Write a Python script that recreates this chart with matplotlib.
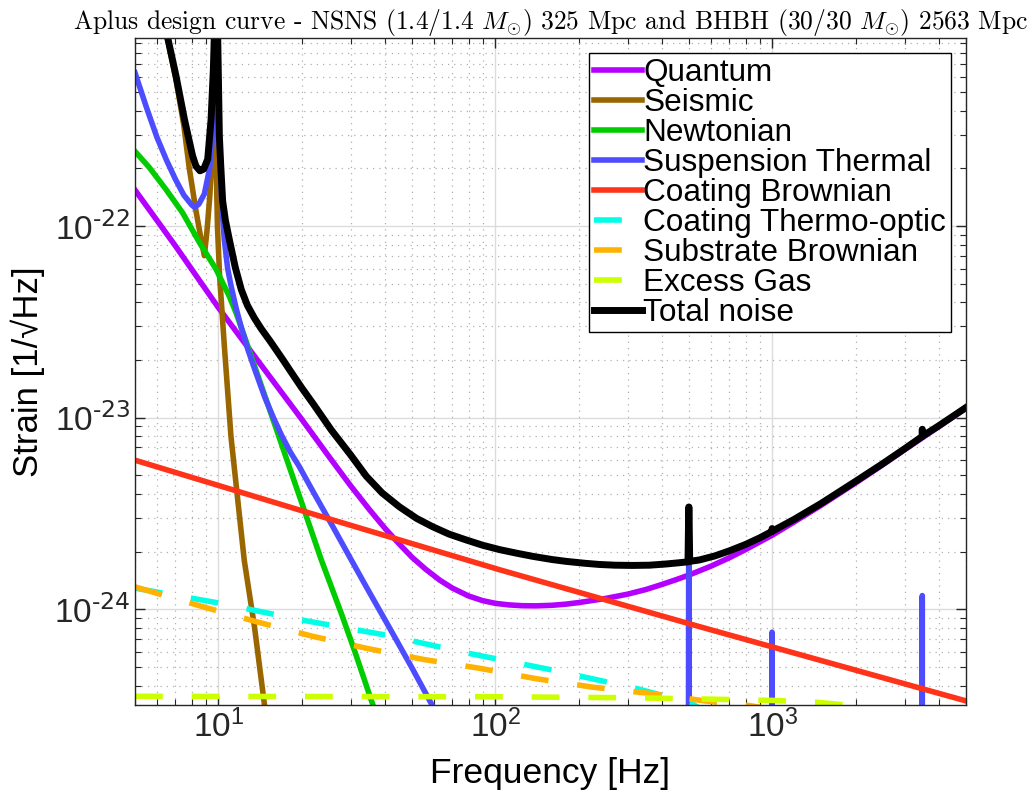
import matplotlib
matplotlib.use('Agg')
import matplotlib.pyplot as plt
from matplotlib.ticker import LogLocator, NullFormatter, FixedLocator, FuncFormatter
import math

# ---------------- data ----------------
quantum_f = [5, 7, 10, 14, 20, 25, 30, 35, 40, 45, 50, 56, 63, 70, 80, 90, 100, 112, 125, 140,
             160, 180, 200, 250, 300, 350, 400, 450, 500, 600, 700, 800, 1000, 1200, 1500, 2000,
             2500, 3000, 3500, 4000, 4500, 5000]
quantum_h = [1.54e-22, 7.86e-23, 3.75e-23, 1.95e-23, 9.8e-24, 6.3e-24, 4.42e-24, 3.33e-24,
             2.64e-24, 2.19e-24, 1.87e-24, 1.62e-24, 1.42e-24, 1.29e-24, 1.175e-24, 1.11e-24,
             1.075e-24, 1.055e-24, 1.045e-24, 1.043e-24, 1.05e-24, 1.065e-24, 1.085e-24, 1.14e-24,
             1.20e-24, 1.27e-24, 1.35e-24, 1.43e-24, 1.51e-24, 1.68e-24, 1.86e-24, 2.05e-24,
             2.44e-24, 2.86e-24, 3.49e-24, 4.57e-24, 5.67e-24, 6.8e-24, 7.9e-24, 9.0e-24,
             1.012e-23, 1.12e-23]

seismic_f = [6.0, 6.5, 7.03, 7.5, 7.85, 8.3, 8.6, 8.9, 9.1, 9.3, 9.54, 9.68, 9.8, 9.92, 10.1,
             10.5, 11.1, 11.8, 12.4, 13.5, 14.7, 16, 18, 20]
seismic_h = [2.0e-21, 1.0e-21, 5.8e-22, 3.35e-22, 2.0e-22, 1.2e-22, 9.0e-23, 7.0e-23, 9.5e-23,
             1.4e-22, 2.6e-22, 4.0e-22, 2.5e-22, 1.0e-22, 5.5e-23, 2.4e-23, 8.0e-24, 3.5e-24,
             1.8e-24, 8.1e-25, 3.1e-25, 1.0e-25, 2e-26, 5e-27]

newton_f = [5, 5.63, 6.47, 7.43, 8.54, 9.81, 10.96, 11.6, 12.4, 13.2, 14, 15, 16.5, 18, 20,
            23.5, 27.8, 31, 36.6, 45, 60]
newton_h = [2.45e-22, 2.02e-22, 1.55e-22, 1.17e-22, 8.2e-23, 5.94e-23, 4.28e-23, 3.5e-23,
            2.67e-23, 2.05e-23, 1.6e-23, 1.2e-23, 8.04e-24, 5.58e-24, 3.59e-24, 1.82e-24,
            9.5e-25, 6.1e-25, 3.0e-25, 1.3e-25, 4e-26]

susp_f = [5, 5.5, 6.0, 6.5, 7.0, 7.5, 8.0, 8.2, 8.5, 8.9, 9.3, 9.6, 9.8, 9.88, 9.96, 10.1, 10.3,
          10.5, 10.8, 11.1, 11.6, 12.1, 12.8, 13.5, 14.7, 15.8, 16.9, 18.2, 19.6, 22, 25.9, 30,
          34.2, 41.5, 50, 60.3, 80, 100, 200, 400,
          496, 499, 500, 503, 700, 994, 997, 998, 1001, 2000, 3472, 3477, 3478, 3483, 5000]
susp_h = [6.3e-22, 4.15e-22, 2.9e-22, 2.2e-22, 1.75e-22, 1.45e-22, 1.29e-22, 1.25e-22, 1.3e-22,
          1.47e-22, 2.0e-22, 3.3e-22, 6.0e-22, 1.3e-21, 6.0e-22, 2.5e-22, 1.25e-22, 8.5e-23,
          6.0e-23, 4.9e-23, 3.7e-23, 2.95e-23, 2.25e-23, 1.8e-23, 1.28e-23, 1.0e-23, 8.1e-24,
          6.6e-24, 5.55e-24, 4.1e-24, 2.7e-24, 1.84e-24, 1.31e-24, 8.0e-25, 4.95e-25, 3.0e-25,
          1.45e-25, 8.5e-26, 1.4e-26, 3e-27,
          2e-27, 3.3e-24, 3.3e-24, 2e-27, 1.5e-27, 1e-27, 7.6e-25, 7.6e-25, 1e-27, 5e-28, 3e-28,
          1.18e-24, 1.18e-24, 3e-28, 2e-28]

cb_f = [5, 19.6, 103.5, 545, 5000]
cb_h = [6.0e-24, 3.3e-24, 1.61e-24, 8.13e-25, 3.33e-25]

cto_f = [5, 10, 20, 40, 80, 160, 320, 510, 650, 1000, 5000]
cto_h = [1.29e-24, 1.08e-24, 8.8e-25, 7.35e-25, 5.9e-25, 4.83e-25, 3.88e-25, 3.24e-25, 2.6e-25,
         1.6e-25, 2e-26]

sb_f = [5, 8.83, 13.8, 21.85, 34.5, 55.4, 87.5, 140, 224, 357, 570, 827, 1500, 5000]
sb_h = [1.31e-24, 1.03e-24, 8.6e-25, 7.24e-25, 6.25e-25, 5.47e-25, 4.93e-25, 4.35e-25, 3.93e-25,
        3.65e-25, 3.33e-25, 3.15e-25, 2.7e-25, 1.8e-25]

gas_f = [5, 100, 300, 600, 1000, 1440, 1800, 2500, 5000]
gas_h = [3.52e-25, 3.50e-25, 3.46e-25, 3.40e-25, 3.35e-25, 3.28e-25, 3.18e-25, 2.9e-25, 2.2e-25]

total_f = [6.2, 6.53, 7.03, 7.54, 8.07, 8.3, 8.58, 8.85, 9.15, 9.41, 9.59, 9.67, 9.8, 9.94,
           10.08, 10.2, 10.36, 10.6, 10.96, 11.5, 12.1, 12.73, 13.5, 14.3, 15.4, 17, 18.35, 20,
           22, 25.6, 30, 34.2, 39, 45, 52, 59.3, 68, 78.6, 90, 103.5, 120, 136.6, 160, 180, 210,
           237, 270, 312, 360, 414, 460, 496, 499, 500, 503, 545, 620, 700, 800, 900, 997, 998,
           1001, 1200, 1500, 2000, 2500, 3000, 3476, 3478, 3481, 4000, 4500, 5000]
total_h = [1.5e-21, 9.9e-22, 6.06e-22, 3.6e-22, 2.32e-22, 2.05e-22, 1.94e-22, 1.98e-22, 2.23e-22,
           3.6e-22, 6.56e-22, 1.0e-21, 5e-21, 1.0e-21,
           2.95e-22, 2.05e-22, 1.35e-22, 1.07e-22, 8.45e-23, 6.1e-23, 4.65e-23, 3.85e-23, 3.3e-23,
           2.9e-23, 2.5e-23, 2.03e-23, 1.72e-23, 1.43e-23, 1.18e-23, 8.6e-24, 6.4e-24, 4.95e-24,
           4.05e-24, 3.43e-24, 2.98e-24, 2.70e-24, 2.47e-24, 2.30e-24, 2.16e-24, 2.05e-24,
           1.96e-24, 1.89e-24, 1.82e-24, 1.78e-24, 1.74e-24, 1.715e-24, 1.70e-24, 1.695e-24,
           1.70e-24, 1.725e-24, 1.75e-24, 1.77e-24, 3.42e-24, 3.42e-24, 1.78e-24, 1.81e-24,
           1.90e-24, 2.02e-24, 2.18e-24, 2.36e-24, 2.55e-24, 2.64e-24, 2.56e-24, 2.95e-24,
           3.57e-24, 4.66e-24, 5.75e-24, 6.88e-24, 7.98e-24, 8.7e-24, 8.0e-24, 9.1e-24, 1.02e-23,
           1.13e-23]

labels = ['Quantum', 'Seismic', 'Newtonian', 'Suspension Thermal', 'Coating Brownian',
          'Coating Thermo-optic', 'Substrate Brownian', 'Excess Gas', 'Total noise']
colors = ['#B300FF', '#996600', '#00CC00', '#4D4DFF', '#FF331A', '#00FFE6', '#FFB300',
          '#CCFF00', '#000000']

x_ticks = [10, 100, 1000]
y_ticks = [1e-24, 1e-23, 1e-22]

title = (r'Aplus design curve - NSNS (1.4/1.4 $M_{\odot}$) 325 Mpc and '
         r'BHBH (30/30 $M_{\odot}$) 2563 Mpc')

# ---------------- figure ----------------
plt.rcParams['font.family'] = ['Liberation Sans', 'DejaVu Sans']
plt.rcParams['axes.unicode_minus'] = False

fig = plt.figure(figsize=(10.33, 7.95), dpi=100)
ax = fig.add_axes([0.1307, 0.1132, 0.8044, 0.8394])

series = [(quantum_f, quantum_h), (seismic_f, seismic_h), (newton_f, newton_h), (susp_f, susp_h),
          (cb_f, cb_h), (cto_f, cto_h), (sb_f, sb_h), (gas_f, gas_h), (total_f, total_h)]
dashed = {5, 6, 7}
for i, ((f, h), lab, c) in enumerate(zip(series, labels, colors)):
    if i in dashed:
        ax.plot(f, h, color=c, lw=4, label=lab, dashes=(5.0, 5.2))
    elif i == 8:
        ax.plot(f, h, color=c, lw=5, label=lab)
    else:
        ax.plot(f, h, color=c, lw=4, label=lab)

ax.set_xscale('log')
ax.set_yscale('log')
ax.set_xlim(5, 5000)
ax.set_ylim(3.17e-25, 9.6e-22)


def sci_fmt(v, pos):
    e = int(round(math.log10(v)))
    if e < 0:
        return r'$\mathdefault{10^{\text{-%d}}}$' % (-e)
    return r'$\mathdefault{10^{%d}}$' % e


ax.xaxis.set_major_locator(FixedLocator(x_ticks))
ax.yaxis.set_major_locator(FixedLocator(y_ticks))
ax.xaxis.set_major_formatter(FuncFormatter(sci_fmt))
ax.yaxis.set_major_formatter(FuncFormatter(sci_fmt))
ax.xaxis.set_minor_locator(LogLocator(base=10, subs=range(2, 10), numticks=20))
ax.yaxis.set_minor_locator(LogLocator(base=10, subs=range(2, 10), numticks=20))
ax.xaxis.set_minor_formatter(NullFormatter())
ax.yaxis.set_minor_formatter(NullFormatter())

ax.grid(which='major', color='#dcdcdc', lw=1.0, ls='-')
ax.grid(which='minor', color='#b0b0b0', lw=0.9, ls=(0, (1, 4)))
ax.set_axisbelow(True)

ax.tick_params(which='both', direction='in', top=True, right=True, colors='#262626',
               labelsize=24)
ax.tick_params(which='major', length=7, width=1)
ax.tick_params(which='minor', length=4, width=0.8)
for s in ax.spines.values():
    s.set_color('#262626')
    s.set_linewidth(1.0)

ax.set_xlabel('Frequency [Hz]', fontsize=25.5, color='#000000', labelpad=9)
ax.set_ylabel('Strain [1/\u221aHz]', fontsize=25, color='#000000', labelpad=6)
ax.set_title(title, fontsize=18.4, family='cmr10', math_fontfamily='cm', pad=3)

leg = ax.legend(loc='upper right', fontsize=22.7, frameon=True, fancybox=False, edgecolor='k',
                framealpha=1, borderpad=0.15, labelspacing=0.0, handlelength=1.55,
                handletextpad=0.03, borderaxespad=0.48)
leg.get_frame().set_linewidth(1.0)

fig.savefig('out.png', dpi=100)
